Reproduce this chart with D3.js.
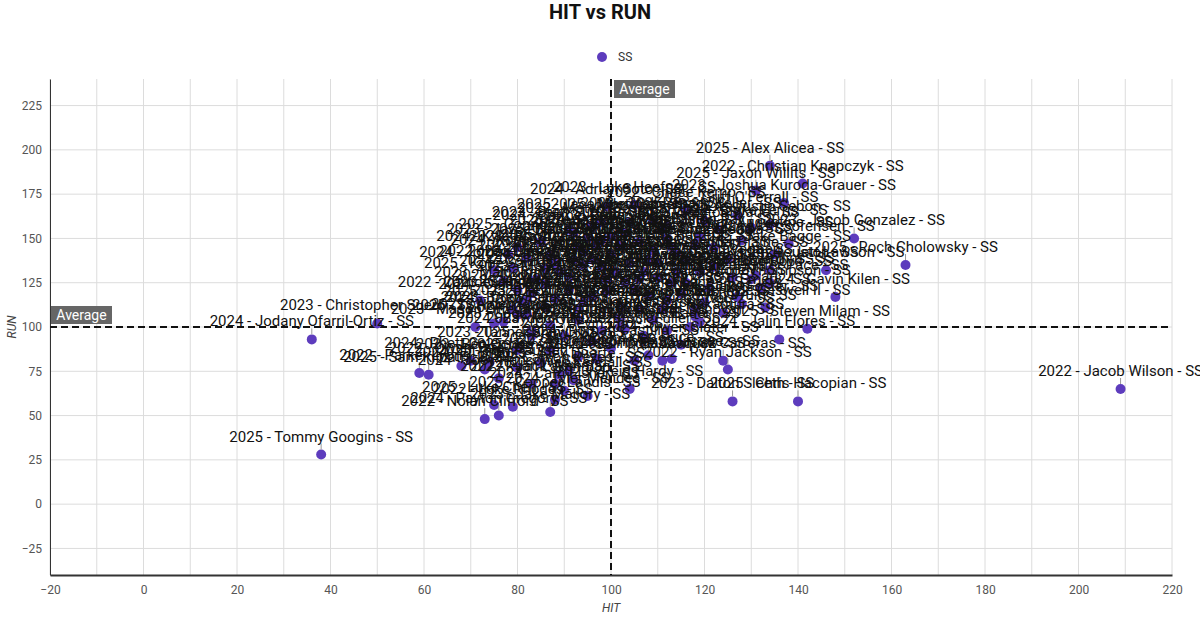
<!DOCTYPE html>
<html>
<head>
<meta charset="utf-8">
<script src="https://cdn.jsdelivr.net/npm/d3@7"></script>
<style>
    body { margin: 0; background: #fff; }
    svg { font-family: Roboto, "Noto Sans", sans-serif; }
</style>
</head>
<body>
<svg id="chart" width="1200" height="625"></svg>
<script>
// Season of each player row
var years = [
    2025, 2024, 2023, 2022, 2025, 2022, 2024, 2025, 2022, 2023,   // 0
    2025, 2024, 2023, 2023, 2025, 2022, 2025, 2022, 2025, 2023,   // 10
    2023, 2023, 2025, 2024, 2024, 2023, 2022, 2023, 2025, 2024,   // 20
    2025, 2024, 2022, 2022, 2023, 2025, 2024, 2023, 2025, 2024,   // 30
    2023, 2022, 2022, 2024, 2023, 2022, 2024, 2023, 2025, 2022,   // 40
    2024, 2023, 2025, 2022, 2024, 2023, 2025, 2022, 2024, 2023,   // 50
    2025, 2022, 2024, 2023, 2025, 2022, 2024, 2023, 2025, 2022,   // 60
    2024, 2023, 2025, 2022, 2024, 2023, 2025, 2022, 2024, 2023,   // 70
    2025, 2022, 2024, 2023, 2025, 2022, 2024, 2023, 2025, 2022,   // 80
    2024, 2023, 2025, 2022, 2024, 2023, 2025, 2022, 2024, 2023,   // 90
    2025, 2022, 2024, 2023, 2025, 2022, 2024, 2023, 2025, 2022,   // 100
    2024, 2023, 2025, 2022, 2024, 2023, 2025, 2022, 2024, 2023,   // 110
    2025, 2022, 2024, 2023, 2025, 2022, 2024, 2023, 2025, 2022,   // 120
    2024, 2023, 2025, 2022, 2024, 2023, 2025, 2022, 2024, 2023,   // 130
    2025, 2022, 2024, 2023, 2025, 2022, 2024, 2023, 2025, 2022,   // 140
    2024, 2023, 2025, 2022, 2024, 2023, 2025, 2022, 2024, 2023,   // 150
    2025, 2022, 2024, 2023, 2025, 2022, 2024, 2023, 2025, 2022,   // 160
    2024, 2023, 2025, 2022, 2024                                  // 170
];

var players = [
    "Tommy Googins", "Jodany Ofarril-Ortiz", "Christopher Suero", "Parker Lyons", "Sam Kilpatrick",
    "Nolan Clifford", "Payton Gregory", "Luke Chen", "Luke Rhodes", "Jake Mallory",
    "Cooper Landis", "Tyler Mendes", "Reid Hardy", "Dalton Sleeth", "Chris Hacopian",
    "Jacob Wilson", "Alex Alicea", "Christian Knapczyk", "Jaxon Willits", "Joshua Kuroda-Grauer",
    "Griff O'Ferrall", "Luke Heefner", "Jace Martinez", "Carmel Rivas", "Jared Meyers",
    "Malcolm Wolf", "Camden Hale", "Jacob Gonzalez", "Roch Cholowsky", "Gavin Kilen",
    "Steven Milam", "Jalin Flores", "Nick Carreras", "Ryan Jackson", "Cole Vasquez",
    "Max Velasquez", "Justin Sebon", "Dylan Augustine", "Jake Bagge", "Kaden Houston",
    "Cole Thompson", "Kyle Caswell II", "Drew Crawford", "Bayden Hill", "Tanner Shaw",
    "Owen Tate", "Eli Brooks", "Mason Ortega", "Ty Hammond", "Aiden Ruiz",
    "Caleb Morrow", "Drew Beckett", "Nate Falcone", "Jonah Pierce", "Brody Salas",
    "Gage Wheeler", "Isaiah Cruz", "Micah Dunn", "Rhett Coleman", "Ben Ochoa",
    "Trey Paulsen", "Quinn Harlow", "Zach Lomax", "Carson Reyes", "Alex Duarte",
    "Jack Whitman", "Cam Fisher", "Wes Kendall", "Evan Pruitt", "Nico Alvarez",
    "Seth Donovan", "Kai Nakamura", "Logan Weiss", "Blake Ferris", "Jett Lawson",
    "Marcus Boyd", "Hunter Pace", "Dane Rollins", "Austin Garza", "Colt Emery",
    "Tristan Vega", "Matt Sorensen", "Kody Reese", "Brayden Cole", "Noah Sandoval",
    "Gavin Roth", "Jordan Lim", "Cody Marsh", "Landon Fry", "Ryder Knox",
    "Parker Doyle", "Jaden Price", "Shane Abbott", "Derek Moss", "Troy Benson",
    "Jalen Ward", "Miles Carver", "Chase Kemp", "Adrian Soto", "Bryce Hollis",
    "Dom Fuentes", "Ethan Crowe", "Grant Mayer", "Luis Barrera", "Reed Kowalski",
    "Javi Moreno", "Colin Hayes", "Sam Whitaker", "Tate Bishop", "Xavier Lane",
    "Ty Fletcher", "Aaron Delgado", "Kellen Frost", "Nolan Briggs", "Ian Mercer",
    "Drew Kirby", "Jace Holt", "Cade Warner", "Rylan Ortiz", "Brett Sutton",
    "Max Perry", "Easton Ray", "Kyle Dixon", "Jayce Bell", "Connor Webb",
    "Luke Graves", "Ben Navarro", "Cooper Nash", "Zane Harper", "Mateo Rios",
    "Gabe Lindley", "Theo Park", "Will Barton", "Riley Stone", "Jesse Quinn",
    "Andrew Tran", "Colby Marx", "Trent Avery", "Eric Lucero", "Josh Pena",
    "Dylan Ford", "Beau Jensen", "Kade Miller", "Jason Riggs", "Henry Olsen",
    "Cole Sheridan", "Spencer Young", "Tyson Hart", "Brady Keller", "Alec Moody",
    "Cruz Medina", "Peyton Wade", "Carter Blaine", "Zeke Howard", "Jake Foster",
    "Nick Ramos", "Sean Keating", "Ty Morales", "Jared Lowe", "Mark Ellis",
    "Kobe Santos", "Leo Durant", "Caden Wright", "Ricky Nunez", "Evan Shields",
    "Devin Cho", "Roman Castillo", "Brock Fuller", "Jake Dorsey", "Kyle Bauer",
    "Owen Slater", "Aiden Price", "Tony Gallo", "Ryan Lake", "Joey Hanson"
];

var hits = [
    38, 36, 50, 59, 61, 73, 76, 75, 79, 87,        // 0
    88, 95, 104, 126, 140, 209, 134, 141, 131, 137, // 10
    127, 105, 98, 92, 89, 80, 72, 152, 163, 148,    // 20
    142, 136, 124, 125, 111, 113, 134, 128, 135, 134, // 30
    132, 133, 102, 83, 80, 68, 73, 71, 75, 77,      // 40
    81, 82, 98, 103, 80, 83, 87, 93, 70, 74,        // 50
    80, 105, 97, 89, 91, 88, 90, 92, 124, 118,      // 60
    117, 119, 102, 130, 146, 130, 134, 131, 116, 127, // 70
    122, 138, 82, 87, 93, 97, 75, 83, 91, 94,       // 80
    100, 109, 113, 103, 113, 111, 104, 116, 99, 88, // 90
    94, 96, 108, 114, 106, 99, 84, 82, 96, 112,     // 100
    118, 111, 106, 102, 93, 86, 79, 103, 112, 91,   // 110
    98, 119, 78, 80, 85, 86, 91, 92, 95, 96,        // 120
    98, 100, 101, 102, 104, 105, 106, 107, 108, 109, // 130
    110, 110, 112, 114, 115, 116, 118, 119, 120, 121, // 140
    122, 123, 125, 126, 128, 120, 99, 94, 88, 86,   // 150
    77, 79, 87, 90, 93, 96, 100, 107, 109, 112,     // 160
    115, 108, 85, 83, 76                            // 170
];

var runs = [
    28, 93, 102, 74, 73, 48, 50, 56, 55, 52,        // 0
    59, 61, 65, 58, 58, 65, 191, 181, 177, 170,     // 10
    163, 169, 159, 153, 131, 121, 115, 150, 135, 117, // 20
    99, 93, 81, 76, 81, 82, 158, 149, 141, 132,     // 30
    122, 111, 100, 95, 87, 78, 76, 100, 102, 103,   // 40
    114, 107, 98, 99, 107, 98, 87, 83, 81, 80,      // 50
    77, 81, 82, 73, 75, 68, 64, 70, 108, 106,       // 60
    100, 103, 105, 156, 132, 127, 125, 129, 125, 117, // 70
    134, 147, 139, 141, 145, 146, 132, 119, 121, 135, // 80
    151, 143, 145, 125, 125, 155, 159, 166, 168, 136, // 90
    142, 138, 138, 142, 127, 127, 127, 115, 117, 115, // 100
    110, 110, 110, 111, 110, 111, 110, 153, 157, 155, // 110
    149, 151, 141, 145, 148, 133, 128, 138, 150, 157, // 120
    134, 141, 131, 146, 136, 121, 148, 131, 118, 160, // 130
    128, 136, 150, 131, 119, 138, 146, 131, 160, 122, // 140
    145, 155, 138, 128, 113, 114, 120, 114, 116, 124, // 150
    126, 133, 101, 95, 104, 92, 88, 95, 104, 98,    // 160
    90, 84, 80, 68, 71                              // 170
];

var xTicks = [-20, 0, 20, 40, 60, 80, 100, 120, 140, 160, 180, 200, 220];
var yTicks = [-25, 0, 25, 50, 75, 100, 125, 150, 175, 200, 225];
var avgHit = 100, avgRun = 100;
var seriesName = "SS";

var data = players.map(function(p, i) {
    return { label: years[i] + " - " + p + " - " + seriesName, hit: hits[i], run: runs[i] };
});

var svg = d3.select("#chart"),
    margin = {top: 79, left: 50, bottom: 50, right: 28},
    width = +svg.attr("width"),
    height = +svg.attr("height");

var purple = "#5d3cbd";

// Scales
var x = d3.scaleLinear()
    .domain([-20, 220])
    .range([margin.left, width - margin.right]);

var y = d3.scaleLinear()
    .domain([-40, 240])
    .range([height - margin.bottom, margin.top]);

// Title
svg.append("text")
    .attr("x", width / 2)
    .attr("y", 19)
    .attr("text-anchor", "middle")
    .attr("font-size", 20)
    .attr("font-weight", "bold")
    .attr("fill", "#111")
    .text("HIT vs RUN");

// Legend
svg.append("circle")
    .attr("cx", 602).attr("cy", 57).attr("r", 5)
    .attr("fill", purple);
svg.append("text")
    .attr("x", 618).attr("y", 61)
    .attr("font-size", 12)
    .attr("fill", "#333")
    .text(seriesName);

// Grid lines
svg.append("g")
    .selectAll("line")
    .data(d3.range(-20, 221, 10))
    .enter().append("line")
    .attr("x1", d => x(d)).attr("x2", d => x(d))
    .attr("y1", y.range()[1]).attr("y2", y.range()[0])
    .attr("stroke", "#dcdcdc");

svg.append("g")
    .selectAll("line")
    .data(yTicks)
    .enter().append("line")
    .attr("x1", x.range()[0]).attr("x2", x.range()[1])
    .attr("y1", d => y(d)).attr("y2", d => y(d))
    .attr("stroke", "#dcdcdc");

// Axes
var xAxis = d3.axisBottom(x).tickValues(xTicks).tickSize(0).tickPadding(10);
svg.append("g")
    .attr("transform", `translate(0,${y.range()[0]})`)
    .call(xAxis)
    .call(g => g.select(".domain").attr("stroke", "#333").attr("stroke-width", 2))
    .call(g => g.selectAll("text").attr("font-size", 12).attr("fill", "#555")
        .attr("font-family", "Roboto, sans-serif"));

var yAxis = d3.axisLeft(y).tickValues(yTicks).tickSize(0).tickPadding(8);
svg.append("g")
    .attr("transform", `translate(${x.range()[0]},0)`)
    .call(yAxis)
    .call(g => g.select(".domain").attr("stroke", "#333").attr("stroke-width", 1))
    .call(g => g.selectAll("text").attr("font-size", 12).attr("fill", "#555")
        .attr("font-family", "Roboto, sans-serif"));

// Axis titles
svg.append("text")
    .attr("x", x(avgHit)).attr("y", 612)
    .attr("text-anchor", "middle")
    .attr("font-size", 12).attr("font-style", "italic").attr("fill", "#444")
    .text("HIT");

svg.append("text")
    .attr("transform", `translate(16,${y(avgRun)}) rotate(-90)`)
    .attr("text-anchor", "middle")
    .attr("font-size", 12).attr("font-style", "italic").attr("fill", "#444")
    .text("RUN");

// Average lines
svg.append("line")
    .attr("x1", x(avgHit)).attr("x2", x(avgHit))
    .attr("y1", y.range()[1]).attr("y2", y.range()[0])
    .attr("stroke", "#111").attr("stroke-width", 2)
    .attr("stroke-dasharray", "7,4");

svg.append("line")
    .attr("x1", x.range()[0]).attr("x2", x.range()[1])
    .attr("y1", y(avgRun)).attr("y2", y(avgRun))
    .attr("stroke", "#111").attr("stroke-width", 2)
    .attr("stroke-dasharray", "7,4");

// Points
svg.append("g")
    .selectAll("circle")
    .data(data)
    .enter().append("circle")
    .attr("cx", d => x(d.hit))
    .attr("cy", d => y(d.run))
    .attr("r", 5)
    .attr("fill", purple);

// Leader lines
svg.append("g")
    .selectAll("line")
    .data(data)
    .enter().append("line")
    .attr("x1", d => x(d.hit)).attr("x2", d => x(d.hit))
    .attr("y1", d => y(d.run) - 5).attr("y2", d => y(d.run) - 11)
    .attr("stroke", "#999");

// Point labels
svg.append("g")
    .selectAll("text")
    .data(data)
    .enter().append("text")
    .attr("x", d => x(d.hit))
    .attr("y", d => y(d.run) - 13)
    .attr("text-anchor", "middle")
    .attr("font-size", 15)
    .attr("fill", "#111")
    .text(d => d.label);

// Average badges
function badge(bx, by) {
    var g = svg.append("g").attr("transform", `translate(${bx},${by})`);
    g.append("rect").attr("width", 61).attr("height", 18).attr("fill", "#666");
    g.append("text").attr("x", 30.5).attr("y", 14)
        .attr("text-anchor", "middle")
        .attr("font-size", 14).attr("fill", "#fff")
        .text("Average");
}
badge(x(avgHit) + 3, y.range()[1] + 1);
badge(x.range()[0] + 1, y(avgRun) - 21);
</script>
</body>
</html>
